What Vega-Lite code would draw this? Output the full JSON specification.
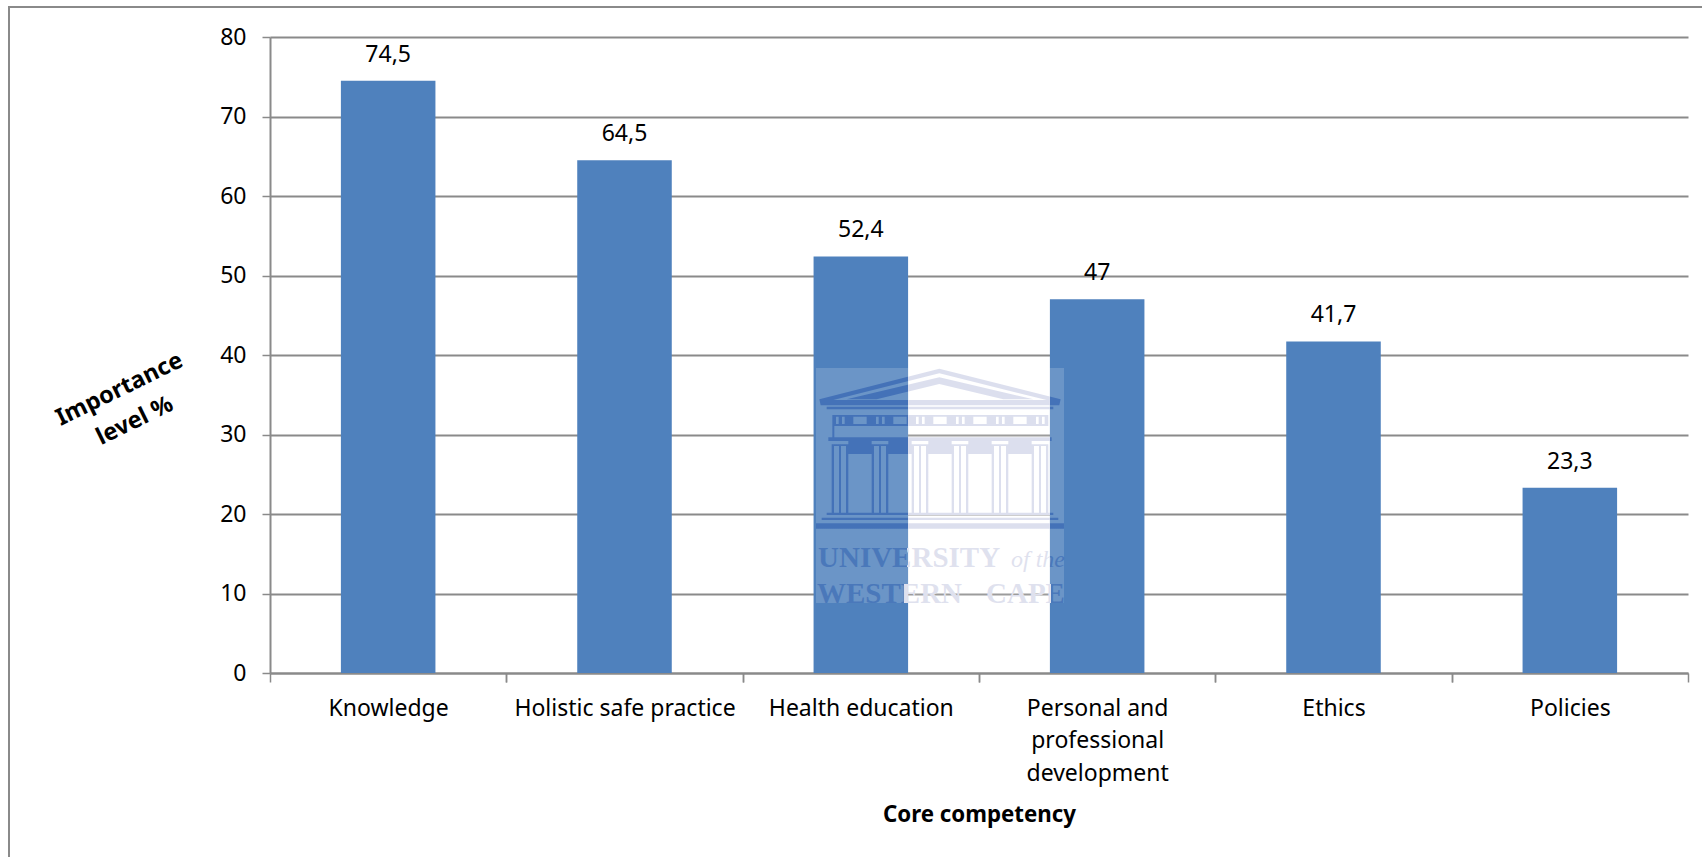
{
  "$schema": "https://vega.github.io/schema/vega-lite/v6.json",
  "width": 1418,
  "height": 636,
  "autosize": {"type": "none"},
  "padding": {"left": 270, "top": 37, "right": 14, "bottom": 184},
  "background": "white",
  "config": {
    "view": {"stroke": null},
    "locale": {"number": {"decimal": ",", "thousands": ".", "grouping": [3], "currency": ["", ""]}},
    "font": "Noto Sans"
  },
  "data": {
    "values": [
      {"competency": "Knowledge", "importance": 74.5},
      {"competency": "Holistic safe practice", "importance": 64.5},
      {"competency": "Health education", "importance": 52.4},
      {"competency": "Personal and professional development", "importance": 47},
      {"competency": "Ethics", "importance": 41.7},
      {"competency": "Policies", "importance": 23.3}
    ]
  },
  "resolve": {"axis": {"x": "independent"}},
  "layer": [
    {
      "description": "Outer chart frame, running off the right and bottom of the page",
      "data": {"values": [{}]},
      "mark": {"type": "rect", "fillOpacity": 0, "stroke": "#8a8a8a", "strokeWidth": 2},
      "encoding": {
        "x": {"value": -261},
        "x2": {"value": 1460},
        "y": {"value": -30},
        "y2": {"value": 860}
      }
    },
    {
      "mark": {"type": "bar", "color": "#4f81bd"},
      "encoding": {
        "x": {
          "field": "competency",
          "type": "nominal",
          "sort": null,
          "scale": {"paddingInner": 0.6, "paddingOuter": 0.3},
          "axis": {
            "orient": "bottom",
            "title": "Core competency",
            "titleFontSize": 22.3,
            "titleFontWeight": "bold",
            "titleColor": "#000000",
            "titleX": 709,
            "titleY": 141,
            "titleBaseline": "middle",
            "labelAngle": 0,
            "labelFontSize": 23,
            "labelColor": "#000000",
            "labelPadding": 15,
            "labelLineHeight": 32.5,
            "labelLimit": 0,
            "labelExpr": "datum.label == 'Personal and professional development' ? ['Personal and', 'professional', 'development'] : datum.label",
            "tickOffset": -118.17,
            "labelOffset": 118.17,
            "tickSize": 9,
            "tickWidth": 1.5,
            "tickColor": "#8a8a8a",
            "domainColor": "#8a8a8a",
            "domainWidth": 2,
            "grid": false
          }
        },
        "y": {
          "field": "importance",
          "type": "quantitative",
          "scale": {"domain": [0, 80], "nice": false},
          "axis": {
            "values": [0, 10, 20, 30, 40, 50, 60, 70, 80],
            "title": ["Importance", "level %"],
            "titleAngle": 334,
            "titleFontSize": 23.5,
            "titleFontWeight": "bold",
            "titleColor": "#000000",
            "titleX": -151,
            "titleY": 352,
            "titleAlign": "center",
            "titleBaseline": "middle",
            "titleLineHeight": 35,
            "labelFontSize": 23,
            "labelColor": "#000000",
            "labelPadding": 16,
            "tickSize": 8,
            "tickWidth": 1.5,
            "tickColor": "#8a8a8a",
            "domainColor": "#8a8a8a",
            "domainWidth": 2,
            "grid": true,
            "gridColor": "#8a8a8a",
            "gridWidth": 2
          }
        }
      }
    },
    {
      "mark": {"type": "text", "fontSize": 23, "color": "#000000", "baseline": "bottom", "dy": -14},
      "encoding": {
        "x": {
          "field": "competency",
          "type": "nominal",
          "sort": null,
          "axis": {
            "orient": "bottom",
            "title": null,
            "labels": false,
            "domain": false,
            "grid": false,
            "tickOffset": 118.17,
            "tickSize": 9,
            "tickWidth": 1.5,
            "tickColor": "#8a8a8a"
          }
        },
        "y": {"field": "importance", "type": "quantitative"},
        "text": {"field": "importance", "type": "quantitative", "format": ".1~f"}
      }
    },
    {
      "description": "Translucent white plate behind the university crest",
      "data": {"values": [{}]},
      "mark": {"type": "rect", "fill": "#ffffff", "fillOpacity": 0.16},
      "encoding": {
        "x": {"value": 546},
        "x2": {"value": 794},
        "y": {"value": 331},
        "y2": {"value": 566}
      }
    },
    {
      "description": "University crest: a classical temple front",
      "data": {"values": [{}]},
      "mark": {
        "type": "point",
        "filled": true,
        "opacity": 1,
        "size": 0.4444,
        "fill": {
          "gradient": "linear", "x1": 0, "x2": 1, "y1": 0, "y2": 0,
          "stops": [
            {"offset": 0, "color": "#4472b8"},
            {"offset": 0.372, "color": "#4472b8"},
            {"offset": 0.372, "color": "#dcdfee"},
            {"offset": 0.9435, "color": "#dcdfee"},
            {"offset": 0.9435, "color": "#4472b8"},
            {"offset": 1, "color": "#4472b8"}
          ]
        },
        "shape": "M118 178 L478 86 L842 178 L838 196 L122 196 Z M160 180 L800 180 L478 100 Z M200 178 L478 112 L760 178 L670 178 L478 132 L290 178 Z M140 200 H820 V208 H140 Z M157 225 H805 V258 H157 Z M220 230 V252 H260 V230 Z M340 230 V252 H380 V230 Z M460 230 V252 H500 V230 Z M580 230 V252 H620 V230 Z M700 230 V252 H740 V230 Z M168 230 V252 H176 V230 Z M186 230 V252 H194 V230 Z M288 230 V252 H296 V230 Z M306 230 V252 H314 V230 Z M408 230 V252 H416 V230 Z M426 230 V252 H434 V230 Z M528 230 V252 H536 V230 Z M546 230 V252 H554 V230 Z M648 230 V252 H656 V230 Z M666 230 V252 H674 V230 Z M768 230 V252 H776 V230 Z M786 230 V252 H794 V230 Z M157 258 H163 V292 H157 Z M145 292 H815 V303 H805 V342 H155 V303 H145 Z M155 303 v10 h50 v-10 z M275 303 v10 h50 v-10 z M395 303 v10 h50 v-10 z M515 303 v10 h50 v-10 z M635 303 v10 h50 v-10 z M755 303 v10 h50 v-10 z M162 318 v24 h15 v-24 z M183 318 v24 h15 v-24 z M282 318 v24 h15 v-24 z M303 318 v24 h15 v-24 z M402 318 v24 h15 v-24 z M423 318 v24 h15 v-24 z M522 318 v24 h15 v-24 z M543 318 v24 h15 v-24 z M642 318 v24 h15 v-24 z M663 318 v24 h15 v-24 z M762 318 v24 h15 v-24 z M783 318 v24 h15 v-24 z M155 342 h7 v176 h-7 z M177 342 h6 v176 h-6 z M198 342 h7 v176 h-7 z M275 342 h7 v176 h-7 z M297 342 h6 v176 h-6 z M318 342 h7 v176 h-7 z M395 342 h7 v176 h-7 z M417 342 h6 v176 h-6 z M438 342 h7 v176 h-7 z M515 342 h7 v176 h-7 z M537 342 h6 v176 h-6 z M558 342 h7 v176 h-7 z M635 342 h7 v176 h-7 z M657 342 h6 v176 h-6 z M678 342 h7 v176 h-7 z M755 342 h7 v176 h-7 z M777 342 h6 v176 h-6 z M798 342 h7 v176 h-7 z M140 518 H820 V525 H140 Z M125 533 H835 V540 H125 Z M108 550 H852 V566 H108 Z"
      },
      "encoding": {
        "x": {"value": 510},
        "y": {"value": 303}
      }
    },
    {
      "data": {"values": [{}]},
      "mark": {
        "type": "text", "text": "UNIVERSITY", "font": "Liberation Serif", "fontWeight": "bold", "fontSize": 29, "align": "left", "baseline": "alphabetic",
        "fill": {
          "gradient": "linear", "x1": 0, "x2": 1, "y1": 0, "y2": 0,
          "stops": [
            {"offset": 0, "color": "#4a78ba"},
            {"offset": 0.49, "color": "#4a78ba"},
            {"offset": 0.49, "color": "#dfe1ee"},
            {"offset": 1, "color": "#dfe1ee"}
          ]
        }
      },
      "encoding": {"x": {"value": 548}, "y": {"value": 530}}
    },
    {
      "data": {"values": [{}]},
      "mark": {
        "type": "text", "text": "of the", "font": "Liberation Serif", "fontStyle": "italic", "fontSize": 24, "align": "left", "baseline": "alphabetic",
        "fill": {
          "gradient": "linear", "x1": 0, "x2": 1, "y1": 0, "y2": 0,
          "stops": [
            {"offset": 0, "color": "#dfe1ee"},
            {"offset": 0.72, "color": "#dfe1ee"},
            {"offset": 0.72, "color": "#4a78ba"},
            {"offset": 1, "color": "#4a78ba"}
          ]
        }
      },
      "encoding": {"x": {"value": 741}, "y": {"value": 530}}
    },
    {
      "data": {"values": [{}]},
      "mark": {
        "type": "text", "text": "WESTERN", "font": "Liberation Serif", "fontWeight": "bold", "fontSize": 29, "align": "left", "baseline": "alphabetic",
        "fill": {
          "gradient": "linear", "x1": 0, "x2": 1, "y1": 0, "y2": 0,
          "stops": [
            {"offset": 0, "color": "#4a78ba"},
            {"offset": 0.6, "color": "#4a78ba"},
            {"offset": 0.6, "color": "#dfe1ee"},
            {"offset": 1, "color": "#dfe1ee"}
          ]
        }
      },
      "encoding": {"x": {"value": 547}, "y": {"value": 566}}
    },
    {
      "data": {"values": [{}]},
      "mark": {
        "type": "text", "text": "CAPE", "font": "Liberation Serif", "fontWeight": "bold", "fontSize": 29, "align": "left", "baseline": "alphabetic",
        "fill": {
          "gradient": "linear", "x1": 0, "x2": 1, "y1": 0, "y2": 0,
          "stops": [
            {"offset": 0, "color": "#dfe1ee"},
            {"offset": 0.82, "color": "#dfe1ee"},
            {"offset": 0.82, "color": "#4a78ba"},
            {"offset": 1, "color": "#4a78ba"}
          ]
        }
      },
      "encoding": {"x": {"value": 716}, "y": {"value": 566}}
    }
  ]
}
